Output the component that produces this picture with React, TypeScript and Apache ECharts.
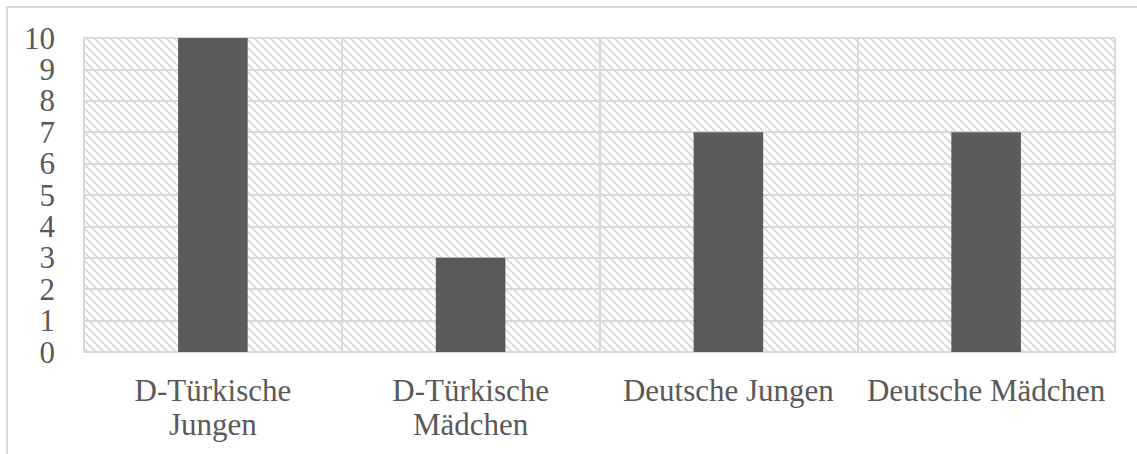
import React, { useEffect, useRef } from "react";
import * as echarts from "echarts";

const categories = [
  "D-Türkische\nJungen",
  "D-Türkische\nMädchen",
  "Deutsche Jungen",
  "Deutsche Mädchen",
];
const values = [10, 3, 7, 7];
const yTicks = { min: 0, max: 10, interval: 1 };

const TEXT = "#595959";
const GRID = "#d9d9d9";
const FONT = "Liberation Serif";

// Wide downward-diagonal hatch tile for the plot background
function makeHatch(): HTMLCanvasElement {
  const s = 8;
  const c = document.createElement("canvas");
  c.width = s;
  c.height = s;
  const g = c.getContext("2d")!;
  g.fillStyle = "#ffffff";
  g.fillRect(0, 0, s, s);
  g.strokeStyle = "#d4d4d4";
  g.lineWidth = 1.6;
  for (const off of [-s, 0, s]) {
    g.beginPath();
    g.moveTo(off, 0);
    g.lineTo(off + s, s);
    g.stroke();
  }
  return c;
}

export default function App() {
  const ref = useRef<HTMLDivElement>(null);

  useEffect(() => {
    if (!ref.current) return;
    const chart = echarts.init(ref.current, undefined, { renderer: "svg" });
    chart.setOption({
      animation: false,
      backgroundColor: "#ffffff",
      textStyle: { fontFamily: FONT },
      graphic: [
        {
          type: "rect",
          shape: { x: 7, y: 7, width: 1200, height: 600 },
          style: { fill: "none", stroke: GRID, lineWidth: 2 },
          silent: true,
          z: -1,
        },
      ],
      grid: {
        left: 84,
        right: 22,
        top: 38,
        bottom: 102,
        show: true,
        borderWidth: 0,
        backgroundColor: { image: makeHatch(), repeat: "repeat" },
      },
      xAxis: {
        type: "category",
        data: categories,
        axisLine: { show: true, lineStyle: { color: GRID, width: 2 } },
        axisTick: { show: false },
        splitLine: { show: true, lineStyle: { color: GRID, width: 2 } },
        axisLabel: {
          interval: 0,
          margin: 21,
          color: TEXT,
          fontFamily: FONT,
          fontSize: 31,
          lineHeight: 34,
        },
      },
      yAxis: {
        type: "value",
        min: yTicks.min,
        max: yTicks.max,
        interval: yTicks.interval,
        axisLine: { show: true, lineStyle: { color: GRID, width: 2 } },
        axisTick: { show: false },
        splitLine: { show: true, lineStyle: { color: GRID, width: 2 } },
        axisLabel: {
          margin: 29,
          color: TEXT,
          fontFamily: FONT,
          fontSize: 31,
          lineHeight: 28,
        },
      },
      series: [
        {
          type: "bar",
          data: values,
          barWidth: "27%",
          itemStyle: { color: "#5b5b5b" },
        },
      ],
    });
    return () => chart.dispose();
  }, []);

  return (
    <div
      ref={ref}
      style={{ position: "fixed", left: 0, top: 0, width: 1137, height: 454 }}
    />
  );
}
